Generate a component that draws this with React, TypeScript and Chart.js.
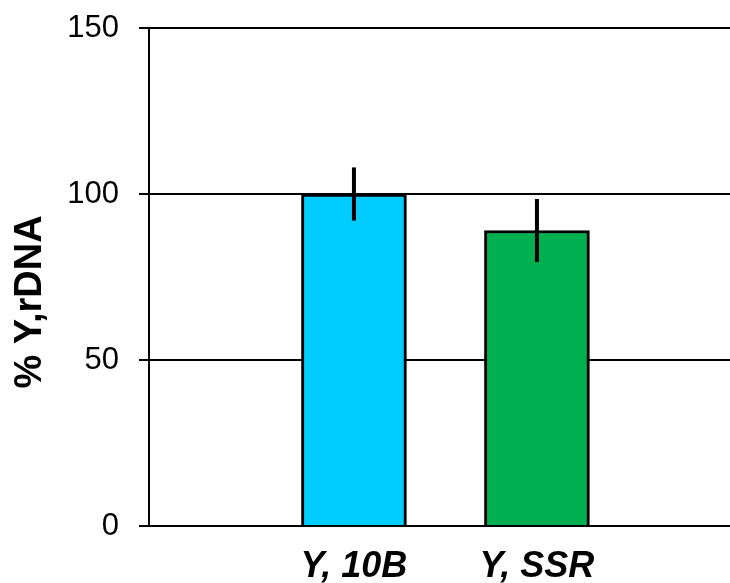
import React, { useEffect, useRef } from "react";
import { Chart, registerables } from "chart.js";

Chart.register(...registerables);

const categories = ["Y, 10B", "Y, SSR"];
const values = [100, 89];
const errors = [8, 9.5];
const barColors = ["#00CCFF", "#00B050"];
const yTicks = [0, 50, 100, 150];
const yTitle = "% Y,rDNA";

const FONT = "'Liberation Sans', Arial, sans-serif";

const errorBarPlugin = {
  id: "errorBars",
  afterDatasetsDraw(chart: any) {
    const { ctx, scales } = chart;
    const meta = chart.getDatasetMeta(0);
    ctx.save();
    ctx.strokeStyle = "#000";
    ctx.lineWidth = 4;
    ctx.lineCap = "butt";
    meta.data.forEach((bar: any, i: number) => {
      const top = scales.y.getPixelForValue(values[i] + errors[i]);
      const bot = scales.y.getPixelForValue(values[i] - errors[i]);
      ctx.beginPath();
      ctx.moveTo(bar.x, top);
      ctx.lineTo(bar.x, bot);
      ctx.stroke();
    });
    ctx.restore();
  },
};

const yTitlePlugin = {
  id: "yTitle",
  afterDraw(chart: any) {
    const { ctx, chartArea } = chart;
    ctx.save();
    ctx.fillStyle = "#000";
    ctx.font = `bold 38px ${FONT}`;
    ctx.textAlign = "center";
    ctx.textBaseline = "middle";
    ctx.translate(31, chartArea.top + (chartArea.bottom - chartArea.top) * 0.55);
    ctx.rotate(-Math.PI / 2);
    ctx.fillText(yTitle, 0, 0);
    ctx.restore();
  },
};

export default function App() {
  const ref = useRef<HTMLCanvasElement>(null);
  useEffect(() => {
    if (!ref.current) return;
    const chart = new Chart(ref.current, {
      type: "bar",
      data: {
        datasets: [
          {
            data: values.map((v, i) => ({ x: i + 1, y: v })),
            backgroundColor: barColors,
            borderColor: "#000",
            borderWidth: 3,
            barThickness: 105,
          },
        ],
      },
      options: {
        responsive: false,
        animation: false,
        layout: { padding: { left: 0, right: 0, top: 28, bottom: 0 } },
        plugins: {
          legend: { display: false },
          tooltip: { enabled: false },
        },
        scales: {
          x: {
            type: "linear",
            offset: false,
            bounds: "data",
            min: -0.12,
            max: 3.055,
            grid: { display: false, drawTicks: false, offset: false },
            border: { display: true, color: "#000", width: 2 },
            afterBuildTicks: (scale: any) => {
              scale.ticks = categories.map((_, i) => ({ value: i + 1 }));
            },
            afterFit: (scale: any) => {
              scale.height = 57;
              scale.paddingLeft = 0;
              scale.paddingRight = 0;
            },
            ticks: {
              autoSkip: false,
              maxRotation: 0,
              padding: 19,
              color: "#000",
              font: { family: FONT, size: 36, weight: "bold", style: "italic" },
              callback: (v: any) => categories[Number(v) - 1] ?? "",
            },
          },
          y: {
            min: yTicks[0],
            max: yTicks[yTicks.length - 1],
            afterBuildTicks: (scale: any) => {
              scale.ticks = yTicks.map((v) => ({ value: v }));
            },
            afterFit: (scale: any) => {
              scale.width = 149;
              scale.paddingTop = 0;
              scale.paddingBottom = 0;
            },
            grid: { color: "#000", lineWidth: 2, drawTicks: true, tickLength: 10 },
            border: { display: true, color: "#000", width: 2 },
            ticks: {
              padding: 20,
              color: "#000",
              font: { family: FONT, size: 31 },
            },
          },
        },
      },
      plugins: [errorBarPlugin, yTitlePlugin],
    } as any);
    return () => chart.destroy();
  }, []);
  return (
    <div style={{ position: "absolute", left: 0, top: 0, width: 730, height: 583 }}>
      <canvas ref={ref} width={730} height={583} />
    </div>
  );
}
